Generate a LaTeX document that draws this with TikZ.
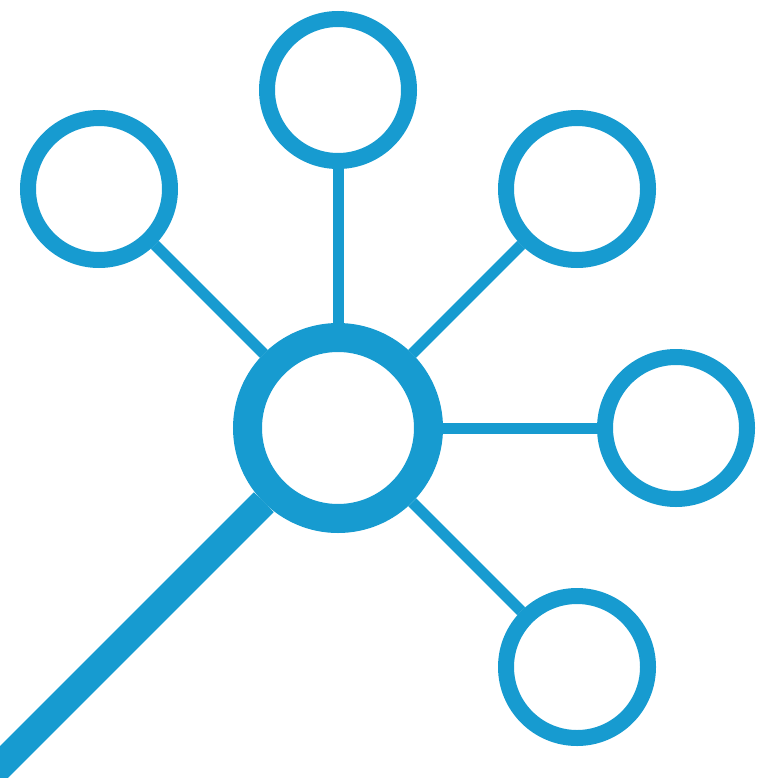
\documentclass[tikz,border=0pt]{standalone}
\usetikzlibrary{positioning}
\definecolor{netblue}{RGB}{23,155,208}

\begin{document}
\begin{tikzpicture}[x=1pt, y=-1pt, on grid,
                    hubnode/.style={circle, draw=netblue, line width=29pt, minimum size=181pt, inner sep=0pt},
                    leafnode/.style={circle, draw=netblue, line width=16pt, minimum size=142pt, inner sep=0pt},
                    spoke/.style={draw=netblue, line width=11pt},
                    stem/.style={draw=netblue, line width=28pt},]
    \useasboundingbox (0,0) rectangle (763,778);
    \clip (0,0) rectangle (763,778);
    % nodes
    \node[hubnode]      (hub)     at (338,428)                        {};
    \node[leafnode]     (N)       [above=338pt of hub]                 {};
    \node[leafnode]     (NW)      [above left=239pt and 239pt of hub]  {};
    \node[leafnode]     (NE)      [above right=239pt and 239pt of hub] {};
    \node[leafnode]     (E)       [right=338pt of hub]                 {};
    \node[leafnode]     (SE)      [below right=239pt and 239pt of hub] {};
    \coordinate[below left=420pt and 420pt of hub] (tail);
    % lines
    \draw[spoke] (hub) -- (N);
    \draw[spoke] (hub) -- (NW);
    \draw[spoke] (hub) -- (NE);
    \draw[spoke] (hub) -- (E);
    \draw[spoke] (hub) -- (SE);
    \draw[stem]  (hub) -- (tail);
\end{tikzpicture}
\end{document}
